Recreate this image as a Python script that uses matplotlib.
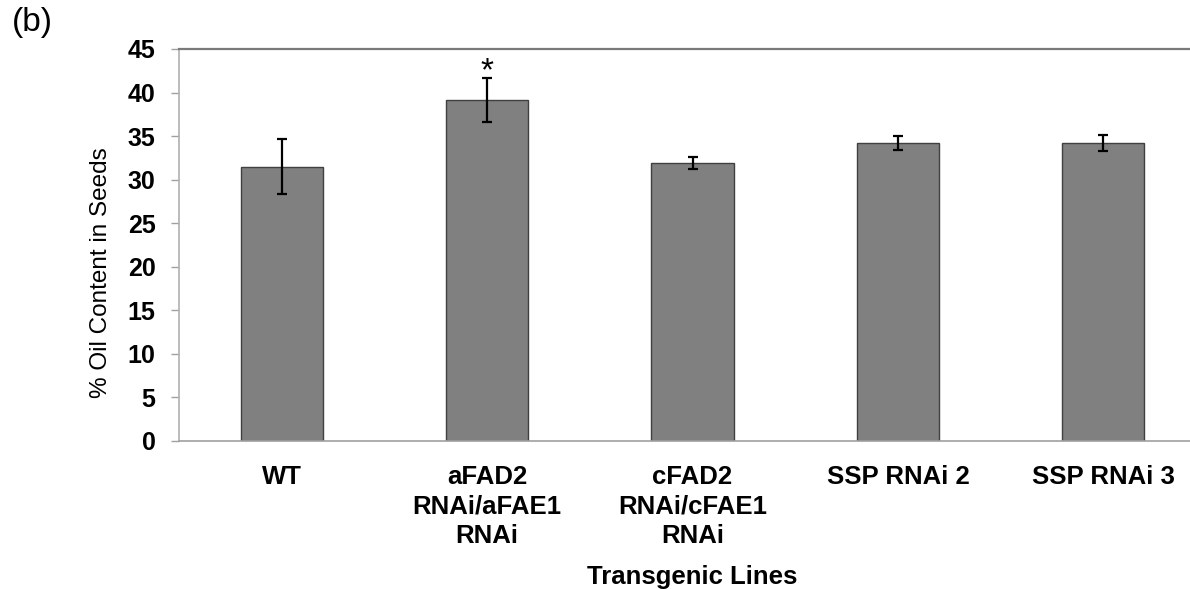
import matplotlib
matplotlib.use("Agg")
import matplotlib.pyplot as plt

# data
lines = ["WT", "aFAD2\nRNAi/aFAE1\nRNAi", "cFAD2\nRNAi/cFAE1\nRNAi", "SSP RNAi 2", "SSP RNAi 3"]
oil = [31.5, 39.15, 31.95, 34.2, 34.2]
err = [3.15, 2.53, 0.69, 0.8, 0.92]
yticks = [0, 5, 10, 15, 20, 25, 30, 35, 40, 45]

plt.rcParams['font.family'] = ['Liberation Sans', 'DejaVu Sans']

fig = plt.figure(figsize=(11.9, 5.89), dpi=100)
# axes runs past the right edge of the figure like in the original crop
ax = fig.add_axes([179 / 1190, 1 - 441 / 589, 1027 / 1190, 392 / 589])

x = list(range(len(lines)))
ax.bar(x, oil, width=0.4, color='#808080', edgecolor='#404040', linewidth=1.0, zorder=2)
ax.errorbar(x, oil, yerr=err, fmt='none', ecolor='black', elinewidth=1.6,
            capsize=3.8, capthick=1.6, zorder=3)

# significance mark
ax.text(1, oil[1] + err[1] + 0.7, '*', ha='center', va='center', fontsize=24)

ax.set_xlim(-0.5, 4.5)
ax.set_ylim(0, 45)
ax.set_yticks(yticks)
ax.set_xticks(x)
ax.set_xticklabels(lines, fontsize=18.5, fontweight='bold', linespacing=1.3)
ax.tick_params(axis='x', length=0, pad=17)
ax.tick_params(axis='y', labelsize=18, length=6, color='#a0a0a0', width=1, pad=11)
for lab in ax.get_yticklabels():
    lab.set_fontweight('bold')

ax.spines['right'].set_visible(False)
ax.spines['top'].set_color('#7a7a7a')
ax.spines['top'].set_linewidth(1.6)
ax.spines['left'].set_color('#b0b0b0')
ax.spines['bottom'].set_color('#a0a0a0')
ax.spines['left'].set_linewidth(1.2)
ax.spines['bottom'].set_linewidth(1.2)

ax.set_ylabel('% Oil Content in Seeds', fontsize=17.5)
ax.yaxis.set_label_coords(-0.065, 0.43)
ax.set_xlabel('Transgenic Lines', fontsize=18.5, fontweight='bold', labelpad=12)

fig.text(12 / 1190, 1 - 22 / 589, '(b)', fontsize=24, va='center', ha='left')

fig.savefig('out.png', dpi=100)
